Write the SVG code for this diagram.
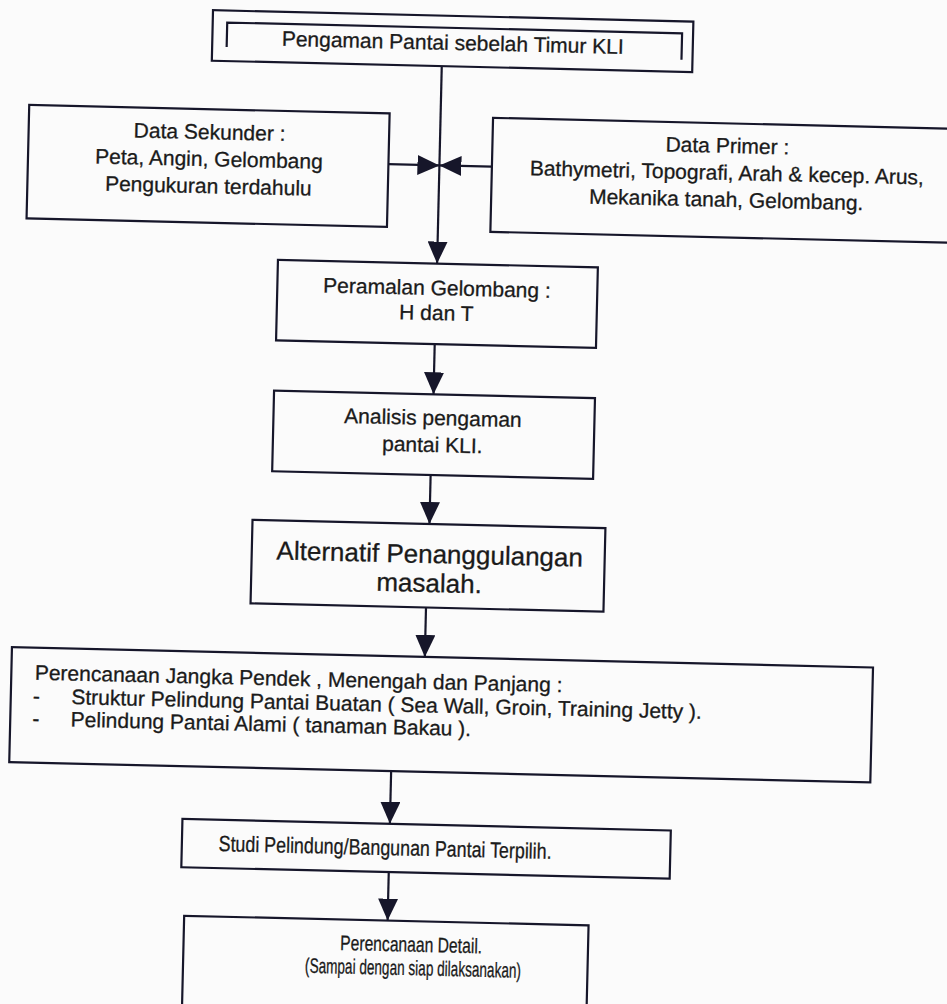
<svg xmlns="http://www.w3.org/2000/svg" width="947" height="1004" viewBox="0 0 947 1004">
  <defs>
    <style>
      .box { fill: none; stroke: #16162a; stroke-width: 2.2; }
      .ln { fill: none; stroke: #16162a; stroke-width: 2.2; }
      .t { font-family: "Liberation Sans", Arial, sans-serif; font-size: 21px; fill: #1a1a1a; stroke: #1a1a1a; stroke-width: 0.3; }
      .c { text-anchor: middle; }
      .big { font-size: 26px; }
    </style>
    <marker id="arr" markerUnits="userSpaceOnUse" markerWidth="22" markerHeight="20" refX="22" refY="10" orient="auto">
      <path d="M0,0 L22,10 L0,20 Z" fill="#16162a"/>
    </marker>
  </defs>
  <rect x="0" y="0" width="947" height="1004" fill="#fbfbfb"/>
  <g transform="rotate(1.35 473 502)">
    <g id="n-top">
      <rect class="box" x="201.5" y="16.5" width="480.5" height="50.5"/>
      <path class="ln" d="M216,53 V28.5 H671 V55"/>
      <text class="t c" x="442" y="50.5">Pengaman Pantai sebelah Timur KLI</text>
    </g>
    <g id="n-sekunder">
      <rect class="box" x="20" y="115.5" width="360.5" height="113.5"/>
      <text class="t c" x="201" y="145.5">Data Sekunder :</text>
      <text class="t c" x="201" y="172.5">Peta, Angin, Gelombang</text>
      <text class="t c" x="201" y="199.5">Pengukuran terdahulu</text>
    </g>
    <g id="n-primer">
      <rect class="box" x="484" y="117.5" width="490" height="114"/>
      <text class="t c" x="719" y="147">Data Primer :</text>
      <text class="t c" x="719" y="174">Bathymetri, Topografi, Arah &amp; kecep. Arus,</text>
      <text class="t c" x="719" y="201">Mekanika tanah, Gelombang.</text>
    </g>
    <g id="n-peramalan">
      <rect class="box" x="272.3" y="264.5" width="320" height="80.5"/>
      <text class="t c" x="432" y="296">Peramalan Gelombang :</text>
      <text class="t c" x="432" y="321">H dan T</text>
    </g>
    <g id="n-analisis">
      <rect class="box" x="271.5" y="395.3" width="321" height="80.7"/>
      <text class="t c" x="431" y="426">Analisis pengaman</text>
      <text class="t c" x="431" y="453">pantai KLI.</text>
    </g>
    <g id="n-alternatif">
      <rect class="box" x="253" y="525" width="353" height="83.6"/>
      <text class="t c big" x="431" y="564">Alternatif Penanggulangan</text>
      <text class="t c big" x="431" y="593">masalah.</text>
    </g>
    <g id="n-perencanaan">
      <rect class="box" x="15.5" y="658" width="861.3" height="115"/>
      <text class="t" x="39" y="690">Perencanaan Jangka Pendek , Menengah dan Panjang :</text>
      <text class="t" x="37.7" y="713.5">-</text>
      <text class="t" x="76" y="713.5">Struktur Pelindung Pantai Buatan ( Sea Wall, Groin, Training Jetty ).</text>
      <text class="t" x="37.7" y="736">-</text>
      <text class="t" x="76" y="736">Pelindung Pantai Alami ( tanaman Bakau ).</text>
    </g>
    <g id="n-studi">
      <rect class="box" x="190" y="825.7" width="488.5" height="48.3"/>
      <text class="t c" x="393.3" y="857" style="font-size:22px" textLength="333" lengthAdjust="spacingAndGlyphs">Studi Pelindung/Bangunan Pantai Terpilih.</text>
    </g>
    <g id="n-detail">
      <rect class="box" x="194" y="922.5" width="404.5" height="90"/>
      <text class="t c" x="421.6" y="953" style="font-size:21px" textLength="142" lengthAdjust="spacingAndGlyphs">Perencanaan Detail.</text>
      <text class="t c" x="424" y="976.5" style="font-size:21px" textLength="216" lengthAdjust="spacingAndGlyphs">(Sampai dengan siap dilaksanakan)</text>
    </g>
    <g id="connectors">
      <line class="ln" x1="431.5" y1="67" x2="431.5" y2="264.5" marker-end="url(#arr)"/>
      <line class="ln" x1="380.5" y1="166.3" x2="431.5" y2="166.3" marker-end="url(#arr)"/>
      <line class="ln" x1="484" y1="166.3" x2="431.5" y2="166.3" marker-end="url(#arr)"/>
      <line class="ln" x1="431" y1="345" x2="431" y2="395.3" marker-end="url(#arr)"/>
      <line class="ln" x1="430" y1="476" x2="430" y2="525" marker-end="url(#arr)"/>
      <line class="ln" x1="428.5" y1="608.6" x2="428.5" y2="658" marker-end="url(#arr)"/>
      <line class="ln" x1="397.5" y1="773" x2="397.5" y2="825.7" marker-end="url(#arr)"/>
      <line class="ln" x1="397.5" y1="874" x2="397.5" y2="922.5" marker-end="url(#arr)"/>
    </g>
  </g>
</svg>
